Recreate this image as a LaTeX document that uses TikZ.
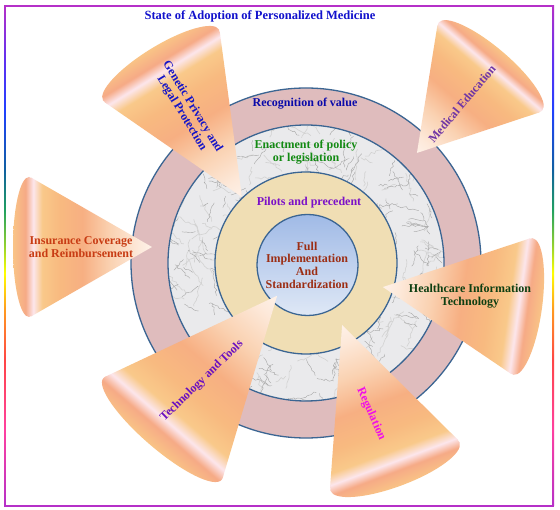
\documentclass[tikz,border=0pt]{standalone}
\usepackage{fontspec}
\setmainfont{Liberation Serif}
\usetikzlibrary{calc,decorations.pathmorphing}

\definecolor{cA}{HTML}{F9C486}
\definecolor{cB}{HTML}{F6AA86}
\definecolor{cC}{HTML}{FCE6EC}
\definecolor{cD}{HTML}{F9C98A}
\definecolor{cE}{HTML}{F8BA80}
\definecolor{cF}{HTML}{F7AF82}
\definecolor{cG}{HTML}{FAD2B2}
\definecolor{cH}{HTML}{FDE9DA}
\definecolor{cI}{HTML}{FEF1E8}
\definecolor{fP}{HTML}{B530C8}
\definecolor{fPink}{HTML}{FF40A0}
\definecolor{fRed}{HTML}{FF4545}
\definecolor{fOr}{HTML}{FF9A20}
\definecolor{fYel}{HTML}{FFFF00}
\definecolor{fYG}{HTML}{90D030}
\definecolor{fGr}{HTML}{20A060}
\definecolor{fTeal}{HTML}{1060A0}
\definecolor{fBlue}{HTML}{2040FF}
\definecolor{fBV}{HTML}{6030F0}
\definecolor{ringpink}{HTML}{DFBCBD}
\definecolor{marble}{HTML}{EAEAEC}
\definecolor{tan}{HTML}{F0DEB4}
\definecolor{innertop}{HTML}{A0BAE6}
\definecolor{innerbot}{HTML}{DFE8F6}
\definecolor{ringline}{HTML}{3B6592}
\definecolor{tTitle}{HTML}{1212CC}
\definecolor{tRec}{HTML}{0A0AAA}
\definecolor{tEna}{HTML}{138A13}
\definecolor{tPil}{HTML}{7B10C8}
\definecolor{tFull}{HTML}{9C2E14}
\definecolor{tIns}{HTML}{C83C14}
\definecolor{tHit}{HTML}{0E3F12}
\definecolor{tGen}{HTML}{1414C8}
\definecolor{tMed}{HTML}{6F35A5}
\definecolor{tTech}{HTML}{6A10C0}
\definecolor{tReg}{HTML}{F010E8}

\pgfdeclarehorizontalshading{conefill}{100bp}{color(0bp)=(cA); color(25bp)=(cA); color(29.5bp)=(cB); color(32.3bp)=(cC); color(35.5bp)=(cD); color(41.5bp)=(cE); color(50bp)=(cF); color(60bp)=(cG); color(70bp)=(cH); color(75bp)=(cI); color(100bp)=(cI)}
\pgfdeclareverticalshading{rainbowedge}{100bp}{color(0bp)=(fP); color(25bp)=(fP); color(32.6bp)=(fPink); color(39.6bp)=(fRed); color(44.6bp)=(fOr); color(48.3bp)=(fYel); color(51.1bp)=(fYG); color(54.6bp)=(fGr); color(58.6bp)=(fTeal); color(64.6bp)=(fBlue); color(69.6bp)=(fBV); color(75bp)=(fP); color(100bp)=(fP)}

% #1,#2 base centre, #3 angle, #4 length, #5 half width, #6 minor radius
\newcommand\conedraw[6]{%
  \pgfmathsetmacro\ctx{(#6)*(#6)/(#4)}%
  \pgfmathsetmacro\cty{(#5)*sqrt(1-((#6)/(#4))^2)}%
  \begin{scope}[transform canvas={shift={(#1,#2)},rotate=#3}]
    \begin{scope}
      \clip (\ctx,\cty) -- (#4,0) -- (\ctx,-\cty) -- cycle;
      \shade[shading=conefill] (-#6,-#5-2) rectangle (#4,#5+2);
    \end{scope}
    \begin{scope}
      \clip (0,0) ellipse (#6pt and #5pt);
      \shade[shading=conefill] (-#6,-#5-2) rectangle (#4,#5+2);
    \end{scope}
  \end{scope}}

\tikzset{
  lbl/.style={font=\bfseries\fontsize{12}{12.6}\selectfont, align=center, inner sep=0pt},
  ring/.style={draw=ringline, line width=1.3pt},
  vein/.style={draw=gray!70, line width=0.4pt, decorate,
    decoration={random steps, segment length=2.5pt, amplitude=1.3pt}, line join=round},
  veinlight/.style={draw=gray!35, line width=0.6pt, decorate,
    decoration={random steps, segment length=3pt, amplitude=1.5pt}, line join=round},
}

\begin{document}
\begin{tikzpicture}[x=1pt,y=-1pt]
\useasboundingbox (0,0) rectangle (560,510);
\fill[white] (0,0) rectangle (560,510);

% frame
\shade[shading=rainbowedge] (4,6) rectangle (5.7,506);
\shade[shading=rainbowedge] (552.3,6) rectangle (554,506);
\fill[fP] (4,5.2) rectangle (554,6.9);
\fill[fP] (4,505.1) rectangle (554,506.8);

% rings
\coordinate (C) at (306,263);
\fill[ringpink] (C) circle (175pt);
\fill[marble] (C) circle (138pt);
\begin{scope}[even odd rule]
  \clip (C) circle (138pt) (C) circle (91pt);
  \pgfmathsetseed{12}
  \foreach \i in {1,...,90}{
    \pgfmathsetmacro\ang{rnd*360}
    \pgfmathsetmacro\rad{91+rnd*47}
    \pgfmathsetmacro\dir{rnd*360}
    \pgfmathsetmacro\len{10+rnd*22}
    \draw[veinlight] ($(C)+(\ang:\rad pt)$) -- ++(\dir:\len pt);
  }
  \foreach \i in {1,...,150}{
    \pgfmathsetmacro\ang{rnd*360}
    \pgfmathsetmacro\rad{91+rnd*47}
    \pgfmathsetmacro\dir{rnd*360}
    \pgfmathsetmacro\len{8+rnd*18}
    \draw[vein] ($(C)+(\ang:\rad pt)$) -- ++(\dir:\len pt);
  }
\end{scope}
\fill[tan] (C) circle (91pt);
\shade[top color=innertop, bottom color=innerbot] (307.5,265) circle (50.5pt);
\draw[ring] (C) circle (175pt);
\draw[ring] (C) circle (138pt);
\draw[ring] (C) circle (91pt);
\draw[ring] (307.5,265) circle (50.5pt);

% cones
\conedraw{161}{65}{-58.5}{155}{68}{19}
\conedraw{490.5}{66.5}{-130.4}{113.5}{68}{19}
\conedraw{29}{247}{0}{123}{70}{16}
\conedraw{523}{306.5}{172.1}{141.4}{69}{19}
\conedraw{162.5}{429}{49.3}{175.8}{78}{20}
\conedraw{395}{466.5}{110.5}{151}{69}{20}

% texts
\node[lbl, font=\bfseries\fontsize{12.5}{13}\selectfont, text=tTitle] (title) at (260,16) {State of Adoption of Personalized Medicine};
\node[lbl, text=tRec] (rv) at (305,104) {Recognition of value};
\node[lbl, text=tEna] (ep) at (306,152) {Enactment of policy\\or legislation};
\node[lbl, text=tPil] (pp) at (309,203) {Pilots and precedent};
\node[lbl, text=tFull] (fi) at (307,265) {Full\\Implementation\\And\\Standardization};
\node[lbl, text=tGen, rotate=-58.6] (gp) at (187,110) {Genetic Privacy and\\Legal Protection};
\node[lbl, text=tMed, rotate=49.8] (me) at (462,104) {Medical Education};
\node[lbl, text=tIns] (ic) at (81,247) {Insurance Coverage\\and Reimbursement};
\node[lbl, text=tHit] (hit) at (470,296) {Healthcare Information\\Technology};
\node[lbl, text=tTech, rotate=44.3] (tt) at (202,381) {Technology and Tools};
\node[lbl, text=tReg, rotate=-66] (rg) at (371,414) {Regulation};
\end{tikzpicture}
\end{document}
